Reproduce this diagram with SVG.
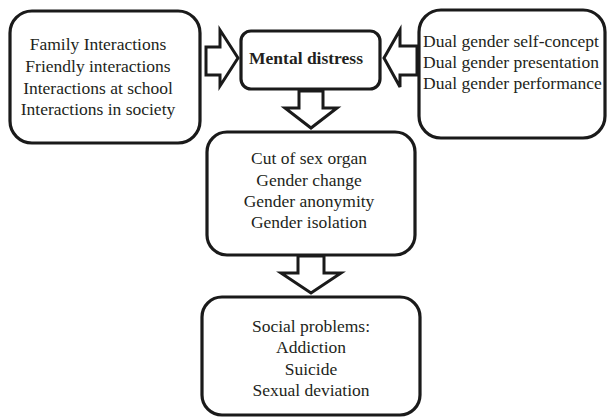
<svg xmlns="http://www.w3.org/2000/svg" width="607" height="418" viewBox="0 0 607 418">
<style>
.box{fill:#fff;stroke:#1a1a1a;stroke-width:3.2}
.arr{fill:#fff;stroke:#1a1a1a;stroke-width:3;stroke-linejoin:miter}
text{font-family:"Liberation Serif","DejaVu Serif",serif;font-size:17.5px;fill:#231f20}
.c{text-anchor:middle}
.b{font-weight:bold}
</style>
<rect width="607" height="418" fill="#fff"/>
<g id="connectors">
<polygon class="arr" points="206,47 220,47 220,30 238,58 220,86 220,75 206,75"/>
<polygon class="arr" points="417,46 400,46 400,30 384,58 400,87 400,75 417,75"/>
<polygon class="arr" points="299,91 323,91 323,108 337,108 311,128 285,108 299,108"/>
<polygon class="arr" points="298,256 324,256 324,273 341,273 311,293 281,273 298,273"/>
</g>
<g id="family">
<rect class="box" x="10" y="11" width="190" height="132" rx="22"/>
<text class="c" x="98" y="50">Family Interactions</text>
<text class="c" x="98" y="72">Friendly interactions</text>
<text class="c" x="98" y="94">Interactions at school</text>
<text class="c" x="98" y="115">Interactions in society</text>
</g>
<g id="mental">
<rect class="box" x="241" y="31" width="139" height="58" rx="10"/>
<text class="c b" x="306" y="64">Mental distress</text>
</g>
<g id="dual">
<rect class="box" x="419" y="10" width="186" height="128" rx="22"/>
<text x="423" y="47">Dual gender self-concept</text>
<text x="423" y="68">Dual gender presentation</text>
<text x="423" y="89">Dual gender performance</text>
</g>
<g id="gender">
<rect class="box" x="207" y="132" width="208" height="123" rx="20"/>
<text class="c" x="309" y="164">Cut of sex organ</text>
<text class="c" x="309" y="186">Gender change</text>
<text class="c" x="309" y="207">Gender anonymity</text>
<text class="c" x="309" y="228">Gender isolation</text>
</g>
<g id="social">
<rect class="box" x="202" y="297" width="218" height="118" rx="20"/>
<text class="c" x="311" y="332">Social problems:</text>
<text class="c" x="311" y="353">Addiction</text>
<text class="c" x="311" y="375">Suicide</text>
<text class="c" x="311" y="396">Sexual deviation</text>
</g>
</svg>
